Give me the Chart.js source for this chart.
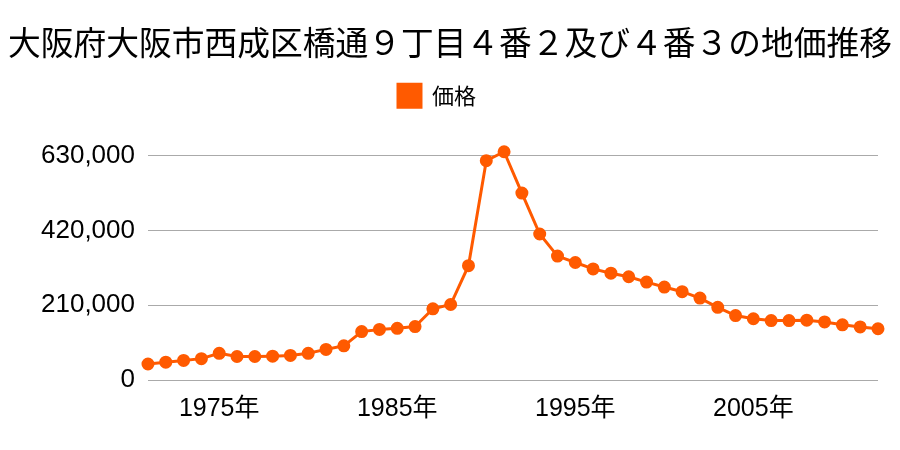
<!DOCTYPE html>
<html>
<head>
<meta charset="utf-8">
<script src="https://cdn.jsdelivr.net/npm/chart.js@4/dist/chart.umd.min.js"></script>
<style>
  html, body { margin: 0; padding: 0; background: #fff; }
  #wrap { width: 900px; height: 450px; }
</style>
</head>
<body>
<div id="wrap"><canvas id="chart" width="900" height="450"></canvas></div>
<script>
// 価格の推移 (1971-2012), values
const years = [
  1971, 1972, 1973, 1974, 1975, 1976, 1977, 1978, 1979, 1980,
  1981, 1982, 1983, 1984, 1985, 1986, 1987, 1988, 1989, 1990,
  1991, 1992, 1993, 1994, 1995, 1996, 1997, 1998, 1999, 2000,
  2001, 2002, 2003, 2004, 2005, 2006, 2007, 2008, 2009, 2010,
  2011, 2012
];
const prices = [
  45000, 50000, 55000, 60000, 75000, 66000, 66000, 67000, 69000, 75000,
  86000, 96000, 136000, 142000, 145000, 150000, 200000, 212000, 321000, 616000,
  641000, 525000, 410000, 348000, 330000, 312000, 300000, 290000, 275000, 261000,
  248000, 230000, 204000, 181000, 172000, 167000, 167000, 168000, 163000, 155000,
  149000, 144000
];
const yTicks = [0, 210000, 420000, 630000];
const xTickYears = [1975, 1985, 1995, 2005];

const titleText = '大阪府大阪市西成区橋通９丁目４番２及び４番３の地価推移';
const seriesLabel = '価格';
const color = '#ff5a00';
const FONT = "'Liberation Sans', 'Noto Sans CJK JP', sans-serif";

// the reference legend sits a little left of centre
const legendNudge = {
  id: 'legendNudge',
  afterLayout(chart) { chart.legend.left -= 26; }
};

new Chart(document.getElementById('chart'), {
  type: 'line',
  data: {
    labels: years,
    datasets: [{
      label: seriesLabel,
      data: prices,
      borderColor: color,
      backgroundColor: color,
      borderWidth: 3,
      pointRadius: 5,
      pointBackgroundColor: color,
      pointBorderColor: color,
      tension: 0
    }]
  },
  plugins: [legendNudge],
  options: {
    responsive: false,
    animation: false,
    layout: { padding: { left: 8, right: 8, top: 0, bottom: 20 } },
    plugins: {
      title: {
        display: true,
        text: titleText,
        color: '#000',
        font: { family: "'Noto Sans CJK JP', sans-serif", size: 33.5, weight: 'normal' },
        padding: { top: 22, bottom: 8 }
      },
      legend: {
        display: true,
        labels: {
          color: '#000',
          boxWidth: 23,
          boxHeight: 23,
          padding: 14,
          font: { family: "'Noto Sans CJK JP', sans-serif", size: 22 }
        }
      },
      tooltip: { enabled: false }
    },
    scales: {
      x: {
        offset: false,
        grid: { display: false },
        border: { display: false },
        ticks: {
          autoSkip: false,
          maxRotation: 0,
          color: '#000',
          padding: 6,
          font: { family: FONT, size: 25 },
          callback: function (val, i) {
            const y = years[i];
            return xTickYears.includes(y) ? y + '年' : null;
          }
        }
      },
      y: {
        min: 0,
        max: 738000,
        border: { display: false },
        grid: { color: '#aaa', lineWidth: 1, drawTicks: false },
        afterBuildTicks: axis => { axis.ticks = yTicks.map(v => ({ value: v })); },
        afterFit: axis => { axis.width += 20; },
        ticks: {
          color: '#000',
          padding: 13,
          font: { family: FONT, size: 26 },
          callback: v => v.toLocaleString('en-US')
        }
      },
      // empty spacer on the right so the plot ends where the reference does
      yRight: {
        position: 'right',
        display: true,
        grid: { display: false },
        border: { display: false },
        ticks: { display: false },
        afterFit: axis => { axis.width = 14; }
      }
    }
  }
});
</script>
</body>
</html>
